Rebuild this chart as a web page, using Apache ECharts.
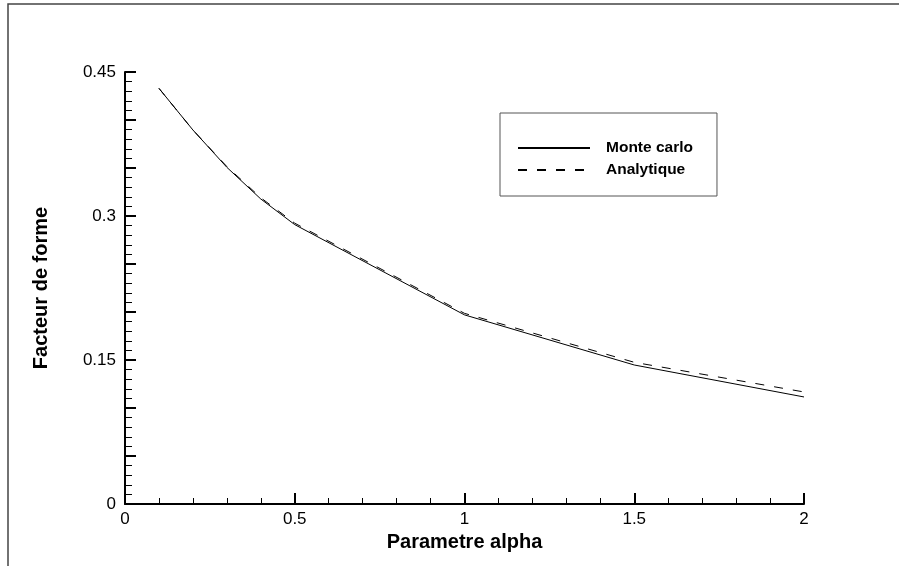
<!DOCTYPE html>
<html>
<head>
<meta charset="utf-8">
<script src="https://cdn.jsdelivr.net/npm/echarts@6/dist/echarts.min.js"></script>
<style>
  html, body { margin: 0; padding: 0; background: #fff; }
  #main { width: 899px; height: 566px; }
</style>
</head>
<body>
<div id="main"></div>
<script>
// valeurs
var alpha = [0.1, 0.2, 0.3, 0.4, 0.5, 1, 1.5, 2];
var monteCarlo = [0.433, 0.3896, 0.3507, 0.3177, 0.291, 0.197, 0.1448, 0.1115];
var analytique = [0.433, 0.3896, 0.3515, 0.319, 0.2925, 0.1986, 0.1476, 0.1167];
var yLabels = ['0', '0.15', '0.3', '0.45'];
var xLabels = ['0', '0.5', '1', '1.5', '2'];

var FONT = 'Liberation Sans, Arial, Helvetica, sans-serif';

function pairs(xs, ys) {
  return xs.map(function (x, i) { return [x, ys[i]]; });
}

function pick(labels) {
  return function (v) {
    var s = labels.filter(function (l) { return Math.abs(parseFloat(l) - v) < 1e-9; });
    return s.length ? s[0] : '';
  };
}

var myChart = echarts.init(document.getElementById('main'));
myChart.setOption({
  animation: false,
  backgroundColor: '#fff',
  grid: { left: 125, right: 95, top: 72, bottom: 62 },
  legend: {
    orient: 'vertical',
    left: 500,
    top: 113,
    padding: [27, 24, 18, 17],
    borderColor: '#555',
    borderWidth: 1,
    itemWidth: 72,
    itemHeight: 14,
    itemGap: 6,
    itemStyle: { opacity: 0 },
    data: ['Monte carlo', 'Analytique'],
    textStyle: {
      fontFamily: FONT,
      fontWeight: 'bold',
      fontSize: 15.5,
      color: '#000',
      padding: [0, 0, 0, 11]
    }
  },
  xAxis: {
    type: 'value',
    min: 0,
    max: 2,
    interval: 0.5,
    name: 'Parametre alpha',
    nameLocation: 'middle',
    nameGap: 22,
    nameTextStyle: { fontFamily: FONT, fontWeight: 'bold', fontSize: 20, color: '#000' },
    axisLine: { show: true, lineStyle: { color: '#000', width: 2 } },
    axisTick: { show: true, inside: true, length: 11, lineStyle: { color: '#000', width: 2 } },
    minorTick: { show: true, splitNumber: 5, length: 6, lineStyle: { color: '#000', width: 1 } },
    splitLine: { show: false },
    axisLabel: { margin: 7, fontFamily: FONT, fontSize: 17, color: '#000', formatter: pick(xLabels) }
  },
  yAxis: {
    type: 'value',
    min: 0,
    max: 0.45,
    interval: 0.05,
    name: 'Facteur de forme',
    nameLocation: 'middle',
    nameGap: 74,
    nameRotate: 90,
    nameTextStyle: { fontFamily: FONT, fontWeight: 'bold', fontSize: 20, color: '#000' },
    axisLine: { show: true, lineStyle: { color: '#000', width: 2 } },
    axisTick: { show: true, inside: true, length: 11, lineStyle: { color: '#000', width: 2 } },
    minorTick: { show: true, splitNumber: 5, length: 7, lineStyle: { color: '#000', width: 1 } },
    splitLine: { show: false },
    axisLabel: { margin: 9, fontFamily: FONT, fontSize: 17, color: '#000', formatter: pick(yLabels) }
  },
  series: [
    {
      name: 'Monte carlo',
      type: 'line',
      symbol: 'none',
      data: pairs(alpha, monteCarlo),
      lineStyle: { color: '#000', width: 1 },
      itemStyle: { color: '#000' }
    },
    {
      name: 'Analytique',
      type: 'line',
      symbol: 'none',
      data: pairs(alpha, analytique),
      lineStyle: { color: '#000', width: 1, type: [9, 10] },
      itemStyle: { color: '#000' }
    }
  ],
  graphic: [
    {
      type: 'polyline',
      silent: true,
      shape: { points: [[8, 566], [8, 4], [899, 4]] },
      style: { stroke: '#444', lineWidth: 1.5, fill: null }
    }
  ]
});
</script>
</body>
</html>
